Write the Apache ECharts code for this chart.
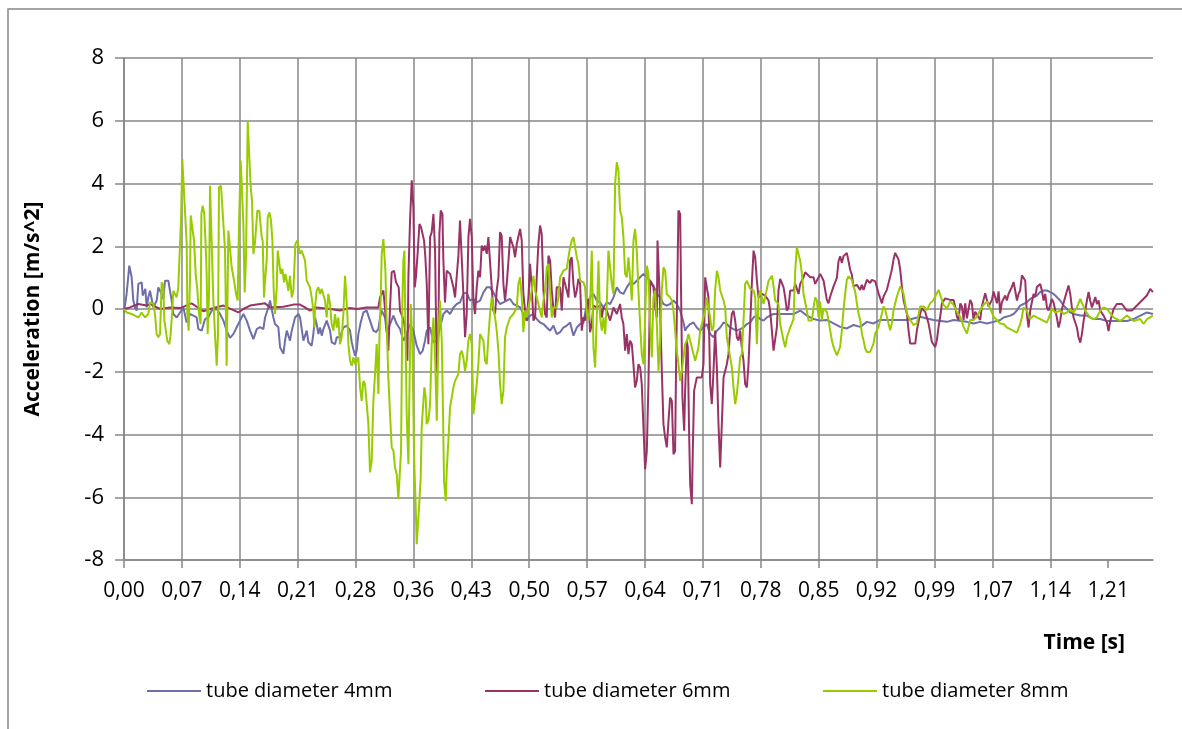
<!DOCTYPE html>
<html>
<head>
<meta charset="utf-8">
<script src="https://cdn.jsdelivr.net/npm/echarts@6/dist/echarts.min.js"></script>
<style>
  html, body { margin: 0; padding: 0; background: #fff; }
  #chart { width: 1182px; height: 729px; }
</style>
</head>
<body>
<div id="chart"></div>
<script>
// time in ms, acceleration in m/s^2
const tube4mm = [
  [0,-0.11],[3.2,0.48],[6.5,1.38],[8.2,1.43],[9.4,1.01],[11.4,0.27],[13.5,0.05],[15.5,-0.05],[17.6,0.80],[21.7,0.85],
  [22.9,0.43],[25,0.37],[26.2,0.64],[27.8,0.05],[29.8,0.37],[31.9,0.58],[33.9,0.53],[36,0.05],[40.1,0.27],[42.1,0.69],
  [44.2,0.74],[46.2,0.48],[48.2,0.32],[50.3,0.90],[54.4,0.90],[56.4,0.58],[58.5,0.27],[60.5,-0.16],[64.6,-0.27],[68.7,-0.11],
  [72.8,0.05],[76.9,-0.43],[81,-0.16],[85.1,-0.21],[89.1,-0.27],[91.2,-0.64],[95.3,-0.69],[99.4,-0.32],[103.4,-0.27],[107.5,-0.05],
  [113.7,0],[117.8,-0.16],[121.9,-0.37],[125.9,-0.69],[130,-0.92],[134.1,-0.80],[138.2,-0.58],[142.3,-0.37],[146.4,-0.16],[150.5,-0.37],
  [154.6,-0.69],[158.7,-0.96],[162.8,-0.64],[166.8,-0.58],[170.9,-0.64],[173,-0.27],[177.1,0.05],[179.1,0.27],[181.2,0.32],[183.2,-0.27],
  [185.2,-0.48],[189.3,-0.58],[191.4,-1.22],[195.5,-1.43],[197.5,-1.01],[199.6,-0.69],[203.6,-1.01],[205.7,-0.69],[209.8,-0.27],[213.9,-0.16],
  [215.9,-0.27],[220,-1.01],[224.1,-0.69],[226.1,-1.06],[230.2,-1.17],[232.2,-0.80],[234.3,-0.27],[236.3,-0.48],[238.4,-0.80],[240.4,-0.59],
  [242.5,-0.85],[244.5,-0.64],[248.6,-0.37],[252.7,-0.69],[254.7,-1.06],[258.8,-1.12],[260.9,-0.90],[264.9,-0.90],[269,-0.59],[273.1,-0.53],
  [277.2,-0.69],[279.3,-1.06],[281.3,-1.28],[283.4,-1.49],[285.4,-1.33],[287.4,-0.80],[290.3,-0.43],[293.6,-0.11],[297.6,-0.05],[301.7,-0.37],
  [305.8,-0.69],[309.1,-0.74],[312,-0.64],[314,-0.27],[316.1,-0.05],[320.1,-0.27],[322.2,-0.74],[326.3,-0.48],[330.4,-0.21],[334.5,-0.48],
  [338.5,-0.64],[342.6,-1.01],[346.7,-0.80],[350.8,-0.48],[354.9,-0.69],[359,-1.17],[363.1,-1.44],[366.3,-1.33],[369.2,-1.01],[371.3,-0.69],
  [375.4,-0.59],[379.4,-1.06],[383.5,-1.01],[387.6,-0.59],[391.7,-0.16],[395.8,-0.05],[399.9,-0.16],[404,0.05],[408.1,0.16],[412.1,0.21],
  [416.2,0.48],[420.3,0.53],[424.4,0.27],[428.5,0.32],[432.6,0.21],[436.7,0.27],
  [440.8,0.53],[444.9,0.69],[448.9,0.69],[453,0.53],[457.1,0.32],[461.2,0.16],[465.3,0.21],[469.4,0.27],[473.5,0.32],[477.6,0.16],
  [481.7,0.11],[485.8,0.05],[489.8,-0.16],[493.9,-0.37],[498,-0.21],[502.1,-0.16],[506.2,-0.32],[510.3,-0.43],[514.4,-0.48],[518.5,-0.59],
  [522.6,-0.69],[526.7,-0.53],[530.7,-0.80],[534.8,-0.74],[538.9,-0.59],[543,-0.53],[547.1,-0.43],[551.2,-0.85],[555.3,-0.59],[559.4,-0.48],
  [563.5,-0.43],[567.6,0.16],[571.6,0.37],[575.7,0.48],[579.8,0.27],[583.9,0.21],[588,0.05],[592.1,0.21],[596.2,0.16],[600.3,0.37],
  [604.4,0.69],[608.4,0.53],[612.5,0.48],[616.6,0.69],[620.7,0.85],[624.8,0.80],[628.9,0.90],[633,1.01],[637.1,1.12],[641.2,1.01],
  [645.3,0.90],[649.3,0.75],
  [653.5,0.48],[657.5,0.37],[661.6,0.16],[665.7,0.11],[669.8,0.16],[673.9,0.27],[678,0.16],[682.1,-0.05],[686.2,-0.43],[688.2,-0.69],
  [690.3,-0.59],[694.4,-0.48],[698.4,-0.43],[702.5,-0.59],[706.6,-0.69],[710.7,-0.59],[714.8,-0.48],[718.9,-0.80],[723,-0.90],[727.1,-0.69],
  [731.2,-0.59],[735.3,-0.43],[739.3,-0.48],[743.4,-0.59],[747.5,-0.64],[751.6,-0.69],[755.7,-0.64],[759.8,-0.59],[763.9,-0.48],[768,-0.43],
  [772.1,-0.27],[776.2,-0.21],[780.2,-0.32],[784.3,-0.37],[788.4,-0.27],[792.5,-0.21],[796.6,-0.16],[804.8,-0.16],[812.9,-0.16],[821.1,-0.16],
  [829.3,-0.05],[837.5,-0.21],[845.7,-0.32],[853.9,-0.37],
  [862,-0.35],[870.2,-0.46],[878.3,-0.57],[886.5,-0.62],[894.7,-0.51],[902.9,-0.57],[911.1,-0.41],[919.2,-0.46],[927.4,-0.35],[943.8,-0.35],
  [960.1,-0.35],[968.3,-0.30],[976.5,-0.25],[984.7,-0.30],[992.9,-0.35],[1009.2,-0.41],[1017.4,-0.35],[1033.8,-0.41],[1041.9,-0.46],[1050.1,-0.41],
  [1058.3,-0.46],[1066.5,-0.41],[1074.7,-0.35],
  [1078.7,-0.27],[1086.9,-0.21],[1091,-0.16],[1095.1,-0.05],[1099.1,0.11],[1103.2,0.16],[1107.3,0.21],[1111.4,0.32],[1115.5,0.38],[1119.6,0.43],
  [1123.7,0.54],[1127.8,0.59],[1131.9,0.59],[1135.9,0.54],[1140,0.48],[1144.1,0.38],[1148.2,0.27],[1152.3,0.11],[1156.4,0],[1160.5,-0.11],
  [1164.6,-0.16],[1172.8,-0.21],[1180.9,-0.21],[1189.1,-0.32],[1197.3,-0.32],[1205.5,-0.38],[1213.7,-0.38],[1221.8,-0.38],[1230,-0.38],[1238.2,-0.32],
  [1246.4,-0.21],[1254.6,-0.11],[1261.9,-0.16]
];

const tube6mm = [
  [0,0],[7.3,0.05],[17.6,0.16],[27.8,0.11],[31.9,0.16],[44.2,0],[56.4,0.05],[68.7,0.03],[83,0.18],[93.2,0],
  [97.3,-0.07],[105.5,0],[121.9,0.11],[140.3,-0.11],[146.4,0],[154.6,0.11],[173,0.18],[179.1,0.05],[195.5,0.07],[207.7,0.14],
  [215.9,0.14],[222,0.05],[228.1,-0.05],[236.3,0.05],[252.7,0],[264.9,-0.05],[277.2,0.03],[285.4,0],[297.7,0.05],[312,0.05],
  [314,0.37],[318.1,0.59],[320.1,0],[322.2,-0.69],[324.2,-1.33],[326.3,0.05],[328.3,1.17],[331.2,1.22],[333.6,0.85],[336.9,0.69],
  [338.5,-0.05],[341.8,-0.27],[343.9,-0.48],[345.9,-1.01],[347.6,-1.65],[348.8,1.01],[350.8,2.82],[352.9,4.10],[354.9,3.24],[356.6,0.69],
  [358.2,1.06],[360.2,1.81],[362.3,2.71],[364.3,2.61],[368,2.18],[369.6,1.65],[371.3,0.80],[373.3,-1.12],[375.4,2.29],[377.4,2.45],
  [379.5,3.03],[381.5,1.86],[383.6,-2.02],[385.6,-0.80],[386.8,2.39],[388.4,3.14],[390.5,3.03],[391.7,1.54],[393.7,0.21],[395.8,1.22],
  [399.9,1.12],[404,0.69],[406,0.37],[408.1,0.43],[410.1,1.70],[412.1,2.82],[414.2,2.87],[416.2,0.48],[418.3,-0.90],[420.3,-0.16],
  [422.4,2.29],[424.4,2.87],[426.5,2.29],[428.5,0.27],[430.5,-0.16],[432.6,0.69],[434.6,1.22],[436.7,1.01],
  [438.7,2.02],[440.8,1.86],[442.8,2.02],[444.9,1.76],[446.9,2.29],[448.9,2.29],[451,0.69],[453,-0.05],[455.1,-0.16],[457.1,0.59],
  [459.2,1.01],[461.2,2.45],[463.2,2.34],[465.3,0.80],[467.3,0.27],[469.4,0.80],[471.4,1.49],[473.5,2.29],[475.5,2.29],[477.6,1.97],
  [479.6,1.65],[481.7,2.07],[485.8,2.55],[487.8,2.18],[489.8,0.48],[491.9,-0.05],[493.9,-0.37],[496,0.37],[498,1.44],[500.1,0.69],
  [502.1,-0.37],[504.2,-0.27],[506.2,1.01],[508.2,2.07],[510.3,2.66],[512.3,2.39],[514.4,0.59],[516.4,-0.16],[518.5,-0.27],[520.5,1.70],
  [522.6,1.54],[524.6,0.59],[526.7,0],[528.7,-0.27],[530.7,0.69],[534.8,0.69],[536.9,-0.05],[538.9,1.01],[543,0.59],[545.1,0.37],
  [547.1,1.54],[549.1,1.65],[551.2,0.80],[553.2,0.37],[555.3,0.59],[557.3,0.96],[559.4,0.80],[561.4,-0.69],[563.5,-0.27],[565.5,-0.37],
  [567.6,0.05],[569.6,0.32],[571.6,-0.74],[573.7,-0.48],[575.7,0.11],[579.8,0.05],[583.9,0.11],[586,-0.27],[588,0.05],[592.1,-0.05],
  [596.2,-0.37],[600.3,0.05],[604.4,-0.16],[608.4,0.16],[610.5,-0.27],[612.5,-0.48],[614.6,-1.33],[616.6,-0.80],[618.7,-1.44],[620.7,-1.01],
  [622.8,-1.12],[624.8,-1.76],[626.8,-2.50],[628.9,-2.29],[630.9,-1.76],[633,-1.86],[635,-2.39],[637.1,-3.78],[639.1,-5.11],[641.2,-4.52],
  [643.2,-2.39],
  [645.3,0.90],[647.3,0.96],[649.4,0.69],[651.4,0.05],[653.5,-0.27],[654.3,2.18],[656.3,2.13],[657.5,0.05],[659.6,-1.97],[661.6,-3.67],
  [663.7,-4.10],[665.7,-4.41],[667.8,-3.56],[669.8,-2.82],[671.9,-2.93],[673.9,-4.63],[675.9,-4.52],[677.2,-1.54],[678.8,1.12],[680,3.14],
  [682.1,3.03],[683.3,0.37],[684.9,-2.82],[687,-3.88],[688.2,-2.61],[690.3,-1.01],[691.5,-1.22],[693.1,-3.99],[694.4,-5.59],[696.4,-6.22],
  [697.6,-4.52],[699.2,-2.61],[702.5,-2.18],[708.6,-2.18],[710.7,-1.76],[712.8,1.01],[714.8,0.96],[716.8,0.37],[718.9,-2.39],[720.9,-3.03],
  [723,-1.97],[725,-0.69],[727.1,-1.86],[729.1,-3.67],[731.2,-5.05],[733.2,-3.67],[735.3,-2.18],[739.3,-1.76],[741.4,-1.44],[743.4,-0.69],
  [745.5,-0.16],[747.5,-0.05],[749.6,-0.37],[751.6,-0.90],[753.6,-1.01],[755.7,-0.69],[757.7,-1.22],[759.8,-1.65],[761.8,-2.39],[763.9,-2.50],
  [765.9,-1.76],[768,-0.48],[770,0.80],[772.1,1.86],[774.1,1.65],[776.2,0.90],[778.2,0.37],[782.3,0.48],[786.3,0.43],[788.4,0.48],
  [790.5,0.27],[792.5,-0.05],[794.6,-0.69],[796.6,-1.33],[798.6,-1.33],[800.7,-0.59],[802.7,0.59],[804.8,0.96],[806.8,0.96],[808.9,0.69],
  [810.9,0.37],[812.9,-0.05],[815,0.05],[817,0.59],[821.1,0.59],[823.2,0.80],[827.3,0.48],[829.3,0.80],[833.4,1.01],[835.4,1.17],
  [837.5,1.22],[841.6,1.01],[845.7,1.01],[847.7,0.80],[849.8,0.80],[853.9,1.12],[858,0.90],
  [862,0.29],[864,0.18],[866.1,0.40],[870.2,0.72],[874.3,0.99],[876.3,1.52],[878.3,1.68],[880.4,1.47],[882.4,1.68],[886.5,1.79],
  [888.6,1.52],[890.6,1.25],[892.7,1.09],[894.7,0.72],[898.8,0.77],[902.9,0.61],[904.9,0.77],[907,0.61],[911.1,0.93],[915.1,0.83],
  [917.2,0.93],[921.3,0.88],[923.3,0.83],[925.4,0.50],[929.5,0.18],[931.5,0.40],[935.6,0.61],[939.7,1.04],[941.7,1.25],[943.8,1.58],
  [945.8,1.79],[947.9,1.79],[949.9,1.58],[952,1.25],[954,0.72],[956,0.29],[960.1,-0.14],[962.2,-0.68],[964.2,-1.10],[970.4,-1.10],
  [972.4,-0.68],[976.5,-0.14],[978.5,0.02],[982.6,-0.09],[986.7,-0.46],[990.8,-1.05],[994.9,-1.21],[996.9,-1.00],[999,-0.57],[1001,-0.25],
  [1003.1,0.18],[1007.2,0.34],[1013.3,0.29],[1017.4,0.29],[1019.4,0.08],[1021.5,-0.25],[1023.5,-0.35],[1025.6,0.18],[1027.6,0.08],[1029.7,-0.35],
  [1031.7,0.18],[1033.8,-0.30],[1035.8,-0.35],[1037.8,0.29],[1039.9,0.18],[1041.9,-0.35],[1044,-0.09],[1050.1,-0.35],[1052.1,0.08],[1056.2,0.50],
  [1058.3,0.50],[1060.3,0.08],[1064.4,0.29],[1066.5,0.56],[1068.5,0.61],[1070.6,0.18],[1072.6,0.56],[1074.7,-0.14],
  [1076.6,0.21],[1080.7,0.43],[1082.8,0.27],[1084.8,0.48],[1088.9,0.70],[1091,0.86],[1093,0.59],[1095.1,0.27],[1097.1,0.48],[1099.1,0.59],
  [1101.2,1.07],[1103.2,1.13],[1105.3,0.91],[1107.3,-0.16],[1109.4,-0.59],[1111.4,-0.05],[1115.5,0.48],[1117.5,0.38],[1119.6,0.70],[1123.7,0.80],
  [1125.7,0.59],[1127.8,0.27],[1129.8,0.48],[1131.9,0.05],[1133.9,-0.05],[1138,0.32],[1140,0.21],[1144.1,-0.27],[1146.2,-0.59],[1148.2,-0.38],
  [1150.3,0],[1154.3,0.38],[1158.4,0.75],[1160.5,0.48],[1162.5,0.05],[1164.6,-0.27],[1168.7,-0.59],[1170.7,-0.91],[1172.8,-1.07],[1174.8,-0.80],
  [1176.9,-0.38],[1178.9,-0.05],[1181,0.27],[1183,0.54],[1185,0.27],[1187.1,0.05],[1191.2,0.38],[1193.2,0.16],[1195.3,0.27],[1197.3,-0.05],
  [1201.4,-0.21],[1205.5,-0.43],[1207.5,-0.70],[1209.6,-0.38],[1213.6,0],[1217.7,0.16],[1223.9,0.16],[1230,-0.05],[1232.1,-0.11],[1236.1,-0.05],
  [1242.3,0.11],[1248.4,0.27],[1254.5,0.43],[1258.6,0.64],[1261.9,0.54]
];

const tube8mm = [
  [0,0],[3.2,-0.11],[9.4,-0.16],[13.5,-0.21],[17.6,-0.27],[21.7,-0.11],[25.7,-0.27],[29.8,-0.16],[31.9,0.21],[33.9,0.27],
  [36,0.16],[38,-0.16],[40.1,-0.80],[42.1,-0.90],[44.2,-0.80],[46.2,0.85],[48.2,0.74],[49.5,-0.37],[51.5,-0.37],[53.1,-1.01],
  [55.6,-1.12],[57.2,-0.80],[58.9,-0.16],[60.5,0.58],[64.6,0.37],[66.6,0.69],[68.7,2.07],[69.9,2.82],[71.5,4.78],[73.6,4.73],
  [75.6,2.71],[76.9,2.07],[77.7,-0.16],[79.3,-0.69],[81,1.01],[81.8,2.98],[83.8,3.03],[85.9,2.18],[87.9,1.12],[90,0.58],
  [92,-0.16],[94,-0.48],[94.9,3.03],[96.5,3.29],[98.5,3.03],[100.2,1.97],[101.4,1.12],[102.6,-0.80],[104.3,0.48],[105.5,3.93],
  [107.9,3.93],[109.6,0.27],[111.6,-0.80],[113.7,-1.81],[115.3,-0.80],[116.5,3.88],[119,3.93],[121.9,2.71],[123.9,1.86],[125.9,-1.81],
  [128,2.50],[130,2.55],[132.1,1.33],[135,0.90],[137.4,0.48],[139.4,0.27],[141.1,2.76],[143.1,4.73],[145.2,4.68],[146.4,2.71],
  [148,0.53],[149.7,1.70],[151.7,6.00],[153.7,5.95],[155.4,3.88],[157,3.45],[158.7,1.75],[160.7,2.13],[162.8,2.13],[163.5,3.13],
  [166,3.13],[168.9,2.28],[170.1,2.18],[171.7,0.37],[173,0.90],[175,1.54],[176.2,2.92],[178.3,3.08],[180.3,2.82],[182,2.18],
  [183.6,0.58],[185.2,-0.16],[187.3,0.69],[188.5,1.86],[190.5,1.81],[192.2,1.12],[194.2,1.28],[196.3,0.85],[197.9,1.12],[199.6,0.90],
  [201.6,0.58],[203.6,1.06],[205.7,0.37],[207.7,0.58],[210.2,2.07],[212.6,2.18],[213.8,2.23],
  [215.9,1.76],[217.9,1.86],[222,1.54],[224.1,0.90],[228.1,0.69],[230.2,0.37],[232.2,-0.05],[233.5,-0.59],[234.3,0.05],[236.3,0.59],
  [238.4,0.69],[240.4,0.48],[242.5,0.64],[244.5,0.59],[246.5,0.27],[248.6,-0.27],[250.6,0.48],[252.7,0.16],[254.7,-0.48],[256.8,-0.69],
  [258.8,-0.16],[260.9,-0.59],[262.9,-0.27],[264.9,-1.12],[267,-0.90],[269,-0.16],[271.1,1.06],[272.3,1.06],[273.9,-0.16],[275.2,-1.12],
  [277.2,-1.65],[279.3,-1.81],[281.3,-1.54],[283.4,-1.76],[285.4,-1.65],[287.4,-1.54],[289.5,-2.50],[291.5,-2.93],[293.6,-2.29],[295.6,-2.39],
  [297.7,-3.03],[299.7,-3.67],[301.7,-5.21],[303.8,-4.84],[305.8,-2.93],[307.9,-2.07],[309.9,-1.12],[312,-2.71],[313.2,-1.01],[314.8,0.27],
  [316.1,1.76],[318.1,2.23],[319.7,2.23],[320.6,1.22],[322.2,-0.48],[324.2,-2.18],[326.3,-3.35],[328.3,-4.41],[330.4,-4.52],[332.4,-5.05],
  [334.5,-5.27],[336.5,-6.06],[338.5,-6.06],[339.8,-4.52],[341.4,0.16],[342.6,1.54],[343.9,1.86],[345.1,-0.59],[346.7,-3.35],[348.8,-4.95],
  [350,-2.71],[351.7,0.16],[353.7,-1.12],[355.7,-4.63],[357.8,-6.33],[359,-7.50],[361.1,-7.55],[362.3,-6.12],[363.9,-5.37],[365.1,-3.78],
  [367.2,-2.93],[368.4,-2.50],[370,-2.82],[371.3,-3.67],[373.3,-3.56],[375.4,-3.03],[377.4,-1.12],[379.5,-0.27],[381.5,-1.54],[383.6,-3.56],
  [385.6,-0.90],[387.6,0.27],[389.7,-1.01],[390.9,-2.71],[392.5,-5.48],[394.6,-6.12],[395.8,-5.16],[397.8,-4.20],[399.9,-3.14],[401.9,-2.82],
  [404,-2.50],[406,-2.29],[410.1,-2.07],[412.1,-1.44],[414.2,-1.33],[416.2,-1.54],[418.3,-1.97],[420.3,-1.65],[422.4,-1.01],[424.4,-0.80],
  [426.5,-1.12],[428.5,-3.35],
  [430.5,-3.35],[432.6,-2.39],[434.6,-1.76],[436.7,-0.80],[440.8,-1.01],[442.8,-1.65],[444.9,-1.76],[446.9,-0.90],[448.9,-0.16],[451,0.37],
  [453,0.37],[455.1,-0.27],[457.1,-0.69],[459.2,-1.33],[461.2,-2.39],[463.2,-3.03],[465.3,-2.61],[467.3,-0.90],[469.4,-0.59],[473.5,-0.27],
  [477.6,-0.16],[481.7,0.05],[483.7,0.80],[485.8,1.01],[487.8,0.37],[489.8,-0.74],[491.9,-0.05],[493.9,-0.27],[496,0.05],[500.1,0.59],
  [502.1,1.06],[504.2,0.59],[508.2,0.16],[512.3,-0.27],[514.4,0.27],[516.4,0.59],[518.5,1.33],[520.5,1.44],[522.6,0.59],[524.6,-0.27],
  [526.7,0.05],[530.7,0.05],[532.8,0.37],[534.8,1.01],[538.9,1.22],[543,1.28],[545.1,1.65],[547.1,1.97],[549.1,2.18],[551.2,2.29],
  [553.2,2.23],[555.3,1.65],[557.3,1.44],[559.4,0.90],[563.5,0.85],[565.5,0.69],[567.6,-0.16],[569.6,-0.37],[571.6,0.16],[573.7,1.86],
  [575.7,-1.22],[577.8,-1.86],[579.8,-0.27],[581.9,1.54],[583.9,-0.27],[586,-0.69],[588,-0.27],[590.1,-0.80],[592.1,0.16],[594.1,1.86],
  [596.2,1.91],[598.2,0.80],[600.3,0.48],[602.3,3.99],[604.4,4.68],[606.4,4.41],[608.4,3.14],[610.5,2.93],[612.5,2.29],[614.6,1.12],
  [616.6,1.01],[618.7,1.65],[620.7,1.01],[622.8,0.27],[624.8,2.18],[626.8,2.55],[628.9,1.86],[630.9,0.59],[633,-0.48],[635,-1.44],
  [637.1,-1.76],[639.1,-0.27],[641.2,1.38],[643.2,1.12],[645.3,-0.48],[647.3,-1.54],[649.3,0.37],
  [651.4,0.59],[653.5,-0.48],[655.5,-1.97],[657.5,-1.01],[659.6,0.59],[661.6,1.33],[663.7,1.22],[665.7,0.48],[669.8,0.37],[671.9,0.27],
  [673.9,-0.05],[675.9,-0.69],[678,-1.33],[680,-1.76],[682.1,-2.29],[684.1,-1.97],[686.2,-1.54],[688.2,-1.12],[690.3,-1.01],[692.3,-0.80],
  [694.4,-1.01],[698.4,-1.44],[700.5,-1.65],[702.5,-1.70],[704.6,-1.22],[706.6,-0.69],[710.7,-0.27],[712.8,-0.05],[714.8,0.37],[716.8,0.37],
  [718.9,-0.27],[720.9,-0.69],[723,-0.59],[725,0.59],[727.1,1.22],[729.1,1.01],[731.2,0.59],[733.2,0.64],[735.3,0.27],[737.3,0.05],
  [739.3,-0.90],[741.4,-1.22],[743.4,-1.54],[745.5,-1.86],[747.5,-2.50],[749.6,-3.03],[751.6,-2.71],[753.6,-2.18],[755.7,-1.54],[757.7,-1.44],
  [759.8,-0.37],[761.8,0.80],[763.9,0.90],[768,0.64],[772.1,0.59],[774.1,0.37],[776.2,-1.12],[778.2,0.37],[780.2,0.59],[784.3,0.16],
  [786.3,0.37],[790.5,0.90],[794.6,1.06],[796.6,0.74],[798.6,0.27],[802.7,0.16],[804.8,-0.48],[808.9,-1.01],[810.9,-1.22],[813,-0.90],
  [817,-0.59],[819.1,-0.59],[821.1,-0.32],[823.2,1.22],[825.2,1.97],[827.3,2.02],[829.3,1.54],[831.4,1.12],[833.4,0.48],[837.5,-0.05],
  [839.5,-0.37],[843.6,-0.37],[845.7,0.05],[847.7,0.37],[849.8,0.27],[851.8,-0.27],
  [853.8,0.24],[855.8,-0.35],[857.9,0.02],[862,-0.09],[864,-0.35],[866.1,-0.68],[868.1,-1.00],[870.2,-1.21],[874.3,-1.48],[876.3,-1.43],
  [878.3,-1.21],[880.4,-0.68],[882.4,-0.03],[884.5,0.50],[886.5,0.93],[888.6,1.04],[892.7,0.93],[894.7,0.72],[896.7,0.56],[898.8,0.18],
  [900.8,-0.14],[902.9,-0.35],[904.9,-0.78],[907,-1.00],[909,-1.26],[911.1,-1.37],[915.1,-1.37],[917.2,-1.32],[919.2,-1.10],[921.3,-0.78],
  [925.4,-0.57],[929.5,-0.14],[931.5,0.08],[933.6,-0.03],[937.6,-0.46],[939.7,-0.68],[941.7,-0.46],[943.8,-0.03],[947.9,0.40],[952,0.72],
  [954,0.66],[956,0.50],[960.1,-0.14],[964.2,-0.35],[968.3,-0.51],[970.4,-0.57],[972.4,-0.46],[976.5,0.08],[980.6,0.08],[984.7,-0.03],
  [988.7,0.18],[992.9,0.29],[996.9,0.50],[999,0.61],[1001,0.45],[1005.1,0.13],[1009.2,0.02],[1013.3,0.24],[1017.4,0.13],[1021.5,-0.09],
  [1025.6,-0.25],[1029.7,-0.57],[1033.8,-0.78],[1037.8,-0.35],[1041.9,-0.35],[1046,-0.25],[1050.1,-0.03],[1054.2,0.13],[1058.3,0.24],[1062.4,0.02],
  [1066.5,-0.25],[1070.6,-0.35],[1074.7,-0.46],
  [1078.7,-0.48],[1082.8,-0.59],[1086.9,-0.64],[1095.1,-0.75],[1097.1,-0.70],[1099.1,-0.48],[1101.2,-0.27],[1103.2,0.05],[1105.3,0.11],[1107.3,-0.05],
  [1109.4,-0.21],[1111.4,-0.32],[1115.5,-0.21],[1123.7,-0.32],[1131.9,-0.43],[1135.9,-0.16],[1138,0],[1142.1,-0.11],[1148.2,-0.05],[1152.3,-0.16],
  [1156.4,-0.11],[1160.5,0],[1164.6,-0.11],[1168.7,0.05],[1172.8,0.32],[1174.8,0.27],[1178.9,-0.05],[1185,-0.27],[1189.1,-0.32],[1193.2,-0.27],
  [1197.3,-0.05],[1201.4,0.05],[1205.5,0],[1213.6,-0.27],[1221.8,-0.38],[1230,-0.21],[1238.2,-0.38],[1246.4,-0.32],[1250.5,-0.48],[1254.6,-0.32],
  [1261.9,-0.21]
];

const seriesNames = ['tube diameter 4mm', 'tube diameter 6mm', 'tube diameter 8mm'];
const seriesColors = ['#6e6eaa', '#993366', '#99cc00'];

// x tick positions (s) and their labels
const xTicks = [0, 0.071, 0.142, 0.213, 0.284, 0.355, 0.426, 0.497, 0.568, 0.639,
                0.71, 0.781, 0.852, 0.923, 0.994, 1.065, 1.136, 1.207];
const xTickLabels = ['0,00', '0,07', '0,14', '0,21', '0,28', '0,36', '0,43', '0,50', '0,57', '0,64',
                     '0,71', '0,78', '0,85', '0,92', '0,99', '1,07', '1,14', '1,21'];
const tEnd = 1.262;

const FONT = '"Open Sans", "Liberation Sans", sans-serif';
const GRID_COLOR = '#878787';

function toSeconds(rows) {
  return rows.map(r => [r[0] / 1000, r[1]]);
}

const chart = echarts.init(document.getElementById('chart'));

const option = {
  animation: false,
  backgroundColor: '#ffffff',
  grid: { left: 124, right: 29, top: 58, bottom: 169 },
  xAxis: {
    type: 'value',
    min: 0,
    max: tEnd,
    interval: 0.071,
    axisLine: { show: true, onZero: false, lineStyle: { color: GRID_COLOR, width: 1.5 } },
    axisTick: { show: true, length: 8, customValues: xTicks, lineStyle: { color: GRID_COLOR, width: 1.5 } },
    axisLabel: {
      customValues: xTicks,
      margin: 21,
      color: '#000',
      fontSize: 21,
      fontFamily: FONT,
      formatter: function (v) {
        let best = 0;
        xTicks.forEach((t, i) => { if (Math.abs(t - v) < Math.abs(xTicks[best] - v)) best = i; });
        return xTickLabels[best];
      }
    },
    splitLine: { show: true, showMaxLine: false, lineStyle: { color: GRID_COLOR, width: 1.5 } }
  },
  yAxis: {
    type: 'value',
    min: -8,
    max: 8,
    interval: 2,
    axisLine: { show: true, lineStyle: { color: GRID_COLOR, width: 1.5 } },
    axisTick: { show: true, length: 9, lineStyle: { color: GRID_COLOR, width: 1.5 } },
    axisLabel: { margin: 20, color: '#000', fontSize: 22, fontFamily: FONT },
    splitLine: { show: true, lineStyle: { color: GRID_COLOR, width: 1.5 } }
  },
  legend: seriesNames.map((name, i) => ({
    data: [name],
    left: [147, 485, 823][i],
    top: 681,
    padding: 0,
    icon: 'rect',
    itemWidth: 54,
    itemHeight: 2,
    itemStyle: { borderWidth: 0 },
    textStyle: { color: '#000', fontSize: 20, fontFamily: FONT }
  })),
  graphic: [
    {
      type: 'rect',
      silent: true,
      shape: { x: 8, y: 9, width: 1200, height: 760 },
      style: { fill: 'none', stroke: GRID_COLOR, lineWidth: 1.5 }
    },
    {
      type: 'text',
      x: 1125,
      y: 643,
      style: { text: 'Time [s]', fill: '#000', font: 'bold 21px ' + FONT, textAlign: 'right', textVerticalAlign: 'middle' }
    },
    {
      type: 'text',
      x: 33,
      y: 309,
      rotation: Math.PI / 2,
      style: { text: 'Acceleration [m/s^2]', fill: '#000', font: 'bold 21px ' + FONT, textAlign: 'center', textVerticalAlign: 'middle' }
    }
  ],
  series: [tube4mm, tube6mm, tube8mm].map((rows, i) => ({
    name: seriesNames[i],
    type: 'line',
    data: toSeconds(rows),
    showSymbol: false,
    symbol: 'none',
    color: seriesColors[i],
    lineStyle: { width: 2, color: seriesColors[i] }
  }))
};

chart.setOption(option);
</script>
</body>
</html>
